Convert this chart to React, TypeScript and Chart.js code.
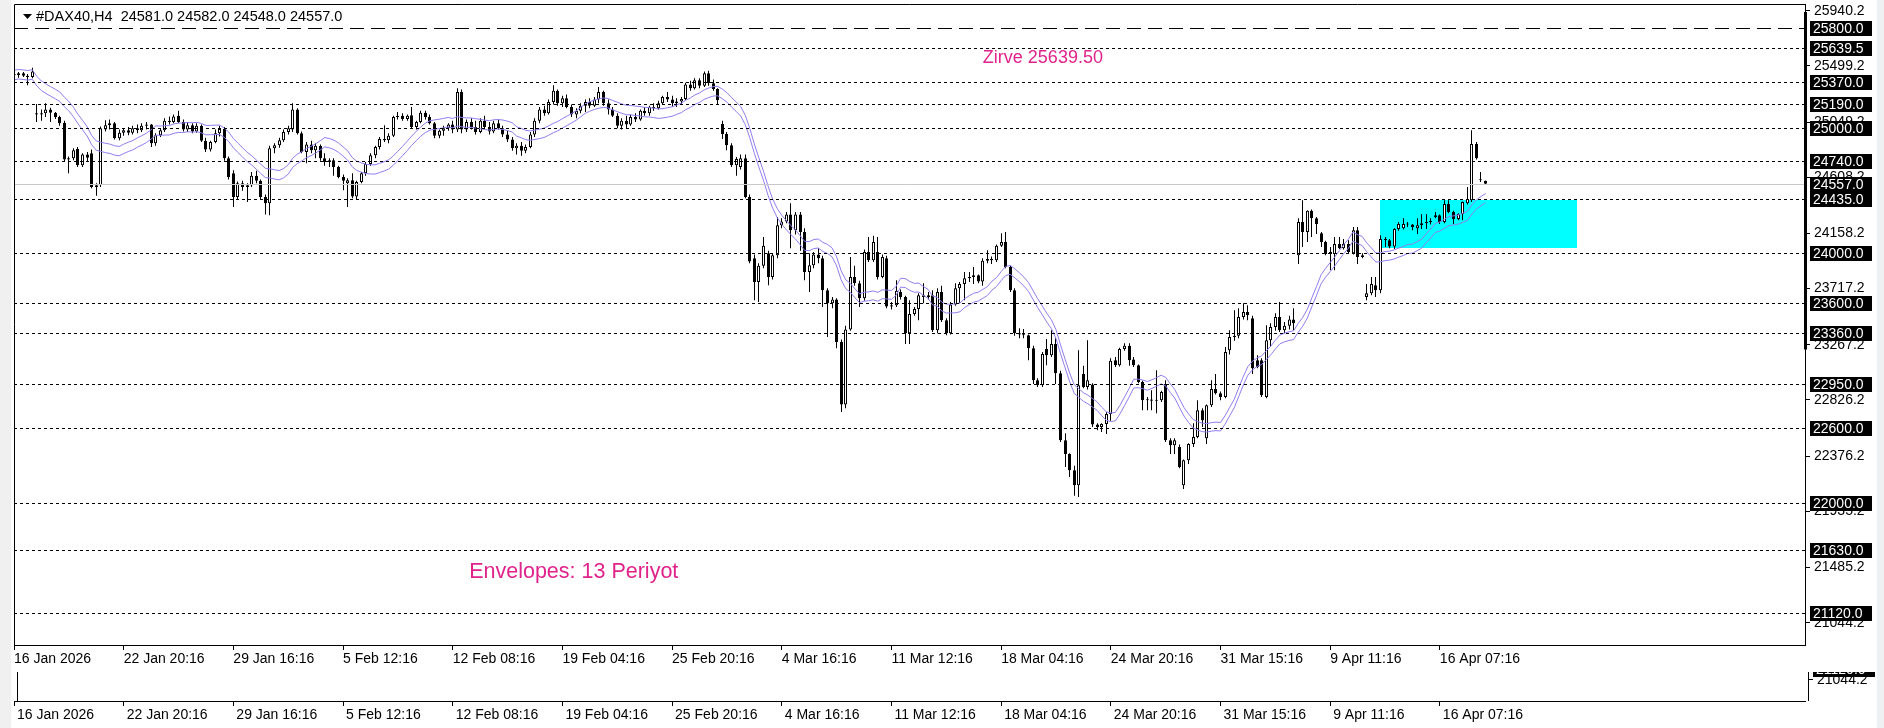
import React, { useEffect, useRef } from 'react';
import { Chart, registerables } from 'chart.js';

Chart.register(...registerables);

// ---------- DATA ----------
const opens = [
  25430,25425,25440,25420,25410,25120,25110,25120,25150,25125,
  25090,25045,24750,24760,24835,24705,24790,24800,24530,24545,
  24990,25025,25040,24920,24965,24985,24965,25000,24985,25020,
  25030,24880,24945,24985,25060,25050,25100,25050,24990,25025,
  24975,25020,24900,24830,24890,24960,24995,24760,24640,24450,
  24560,24530,24545,24620,24580,24450,24400,24840,24865,24905,
  24970,24990,25150,24960,24810,24870,24825,24860,24760,24730,
  24745,24690,24610,24560,24585,24455,24570,24640,24715,24785,
  24850,24915,24905,24940,25090,25100,25075,25105,25010,25050,
  25125,25090,25040,24940,24980,25000,25030,24990,25290,24990,
  25050,25010,24970,25060,25010,24975,25040,25000,24950,24910,
  24840,24860,24820,24850,24950,25060,25150,25120,25210,25300,
  25200,25240,25170,25110,25140,25180,25210,25180,25230,25290,
  25200,25150,25100,25020,25060,25030,25090,25070,25140,25120,
  25170,25160,25200,25250,25230,25200,25215,25235,25350,25320,
  25385,25340,25440,25360,25315,25035,24955,24865,24705,24690,
  24760,24450,23960,23770,23900,24000,23810,23985,24225,24255,
  24310,24185,24310,24170,23850,23905,23990,23960,23705,23600,
  23630,23290,22790,23390,23810,23760,23640,24010,23945,24010,
  23810,23960,23575,23585,23690,23650,23360,23515,23555,23665,
  23650,23665,23385,23690,23465,23360,23590,23720,23755,23800,
  23810,23825,23775,23940,23955,23945,24060,24090,23890,23705,
  23360,23350,23345,23240,22985,22945,23235,23185,23275,23040,
  22505,22395,22265,22145,23035,22930,22950,22630,22610,22635,
  22715,23145,23105,23235,23260,23150,23105,22970,22825,22830,
  22820,22825,22955,22505,22465,22450,22145,22345,22475,22530,
  22745,22520,22785,22915,22880,22850,23225,23330,23340,23490,
  23530,23480,23145,23145,22850,23305,23410,23490,23385,23420,
  23470,23985,24250,24170,24340,24280,24160,24090,24010,23995,
  24075,24040,24075,24000,24185,23970,23650,23680,23745,23705,
  24115,24105,24055,24195,24200,24235,24230,24200,24225,24240,
  24250,24305,24305,24250,24395,24330,24275,24315,24400,24425,
  24875,24590,24581,
];

const highs = [
  25445,25450,25450,25435,25485,25195,25150,25200,25165,25130,
  25100,25060,24775,24840,24850,24800,24810,24830,24560,25015,
  25065,25070,25050,24990,25000,25010,25020,25030,25040,25050,
  25035,24960,25000,25080,25095,25110,25140,25070,25050,25040,
  25040,25030,24925,24900,24990,25020,25010,24775,24665,24575,
  24580,24560,24650,24660,24590,24470,24860,24880,24925,24990,
  25020,25200,25160,24975,24890,24900,24880,24870,24800,24760,
  24760,24700,24630,24600,24640,24580,24650,24730,24800,24860,
  24930,25025,24960,25100,25130,25120,25110,25170,25060,25140,
  25140,25110,25050,24990,25020,25040,25060,25320,25310,25070,
  25080,25060,25080,25100,25050,25060,25070,25020,24980,24930,
  24880,24890,24870,24970,25080,25170,25180,25230,25345,25310,
  25260,25270,25190,25160,25200,25230,25240,25250,25330,25300,
  25230,25170,25120,25080,25100,25110,25120,25150,25170,25180,
  25200,25220,25260,25290,25260,25240,25250,25365,25380,25400,
  25400,25455,25460,25390,25320,25060,24970,24880,24770,24790,
  24790,24470,23990,23920,24130,24020,24000,24290,24280,24330,
  24400,24330,24330,24200,24000,24010,24040,23980,23720,23650,
  23640,23310,23420,23970,23900,23780,24030,24130,24140,24130,
  23990,23980,23610,23785,23710,23660,23625,23570,23680,23760,
  23690,23705,23720,23740,23480,23610,23760,23770,23850,23850,
  23890,23830,23960,24025,23975,24070,24160,24170,23900,23720,
  23400,23395,23350,23260,23000,23210,23315,23385,23320,23060,
  22560,22400,22300,23225,23100,23305,22960,22640,22640,22730,
  23160,23170,23245,23280,23280,23170,23110,22980,22850,22905,
  23065,22900,22985,22520,22520,22470,22350,22480,22640,22825,
  22760,22790,22985,23035,22895,23250,23385,23545,23560,23600,
  23585,23500,23185,23160,23425,23440,23520,23610,23450,23500,
  23560,24280,24425,24345,24350,24290,24170,24100,24050,24130,
  24130,24115,24105,24210,24210,24000,23755,23810,23810,24145,
  24130,24115,24200,24250,24280,24250,24235,24280,24315,24315,
  24280,24330,24310,24425,24425,24340,24320,24415,24530,24985,
  24890,24650,24582,
];

const lows = [
  25415,25405,25410,25345,25400,25050,25060,25090,25050,25075,
  25020,24735,24640,24745,24690,24690,24730,24520,24460,24530,
  24975,24990,24910,24905,24940,24945,24950,24960,24970,24990,
  24850,24860,24930,24970,25030,25040,25040,24975,24970,24960,
  24965,24890,24810,24815,24880,24935,24740,24590,24370,24430,
  24500,24410,24530,24560,24430,24310,24305,24800,24845,24890,
  24950,24970,24950,24800,24720,24800,24760,24740,24700,24690,
  24620,24600,24505,24370,24440,24435,24560,24620,24700,24760,
  24830,24890,24880,24930,25070,25060,25060,25000,24990,25040,
  25070,25030,24920,24920,24940,24980,24960,24970,24960,24970,
  24990,24950,24960,24990,24950,24960,24990,24930,24890,24820,
  24790,24780,24800,24840,24930,25040,25100,25110,25190,25180,
  25170,25160,25090,25080,25120,25130,25160,25170,25200,25180,
  25110,25090,25000,24990,25000,25020,25050,25060,25100,25100,
  25140,25150,25190,25210,25170,25170,25190,25225,25300,25310,
  25320,25330,25340,25300,25195,24915,24825,24690,24620,24670,
  24440,23920,23625,23610,23880,23745,23790,23960,24200,24240,
  24040,24150,24020,23785,23690,23880,23920,23570,23330,23560,
  23240,22730,22760,23380,23740,23570,23620,23930,23930,23790,
  23800,23560,23550,23570,23630,23275,23275,23500,23465,23600,
  23630,23370,23360,23450,23345,23350,23580,23600,23625,23770,
  23755,23760,23740,23920,23915,23930,24050,23880,23690,23340,
  23320,23320,23145,22955,22930,22930,23105,23170,22955,22490,
  22290,22210,22060,22050,22920,22910,22610,22585,22570,22555,
  22660,23090,23095,23220,23100,23090,22960,22745,22745,22745,
  22720,22810,22490,22395,22395,22280,22115,22315,22450,22520,
  22610,22475,22770,22870,22825,22840,23190,23300,23320,23470,
  23465,23035,23080,22850,22840,23250,23380,23370,23360,23390,
  23385,23915,24050,24090,24130,24155,24050,23985,23865,23865,
  24035,24030,23995,23990,23915,23960,23625,23665,23650,23680,
  24050,24040,24035,24180,24190,24210,24185,24155,24195,24195,
  24230,24280,24235,24240,24320,24235,24265,24265,24390,24410,
  24750,24570,24548,
];

const closes = [
  25425,25440,25420,25410,25455,25110,25120,25150,25125,25090,
  25040,24750,24760,24825,24705,24790,24765,24530,24545,25000,
  25025,25040,24920,24965,24985,24965,25000,24985,25020,25030,
  24880,24945,24985,25060,25050,25095,25050,24990,25025,24975,
  25020,24900,24830,24890,24960,24995,24760,24610,24450,24560,
  24530,24545,24620,24580,24450,24400,24840,24865,24905,24970,
  25000,25150,24960,24810,24870,24825,24860,24760,24730,24745,
  24690,24610,24580,24585,24455,24570,24640,24715,24785,24850,
  24915,24905,24940,25090,25100,25075,25100,25010,25050,25125,
  25090,25040,24940,24980,25000,25030,24990,25290,24990,25050,
  25010,24970,25060,25010,24975,25040,25000,24950,24910,24840,
  24860,24820,24850,24950,25060,25150,25120,25210,25300,25200,
  25240,25170,25110,25140,25180,25210,25180,25230,25290,25200,
  25150,25100,25020,25060,25030,25090,25070,25140,25120,25170,
  25160,25200,25250,25230,25200,25215,25235,25350,25320,25385,
  25340,25440,25360,25315,25225,24955,24865,24705,24755,24760,
  24450,23935,23770,23900,24060,23810,23985,24225,24255,24310,
  24185,24310,24170,23850,23905,23990,23960,23705,23600,23630,
  23290,22790,23390,23810,23760,23640,24010,23945,24090,23810,
  23970,23575,23585,23700,23650,23360,23515,23555,23665,23650,
  23665,23385,23690,23465,23360,23590,23720,23755,23800,23810,
  23825,23775,23940,23955,23945,24060,24090,23890,23705,23360,
  23350,23345,23240,22985,22945,23195,23185,23275,23040,22505,
  22395,22265,22145,22945,22930,22985,22630,22610,22635,22715,
  23140,23105,23235,23260,23145,23105,22970,22825,22830,22820,
  22825,22890,22505,22465,22505,22290,22345,22475,22530,22745,
  22665,22785,22915,22880,22850,23210,23330,23340,23490,23530,
  23505,23080,23090,22865,23305,23410,23490,23385,23420,23470,
  23440,24250,24170,24340,24280,24235,24090,23995,23995,24075,
  24040,24075,24010,24185,23970,23985,23680,23755,23705,24115,
  24105,24055,24195,24235,24235,24230,24210,24225,24240,24250,
  24255,24290,24250,24395,24330,24275,24315,24410,24435,24875,
  24760,24585,24557,
];

// time axis: a label every 24 bars
const xTickBars = [0, 24, 48, 72, 96, 120, 144, 168, 192, 216, 240, 264, 288, 312];
const xTickLabels = [
  '16 Jan 2026', '22 Jan 20:16', '29 Jan 16:16', '5 Feb 12:16', '12 Feb 08:16',
  '19 Feb 04:16', '25 Feb 20:16', '4 Mar 16:16', '11 Mar 12:16', '18 Mar 04:16',
  '24 Mar 20:16', '31 Mar 15:16', '9 Apr 11:16', '16 Apr 07:16',
];

// price axis
const priceTicks = [25940.2, 25499.2, 25049.2, 24608.2, 24158.2, 23717.2, 23267.2, 22826.2, 22376.2, 21935.2, 21485.2, 21044.2];
const levelLines = [25639.5, 25370, 25190, 25000, 24740, 24435, 24000, 23600, 23360, 22950, 22600, 22000, 21630, 21120];
const topLevel = 25800;
const bidPrice = 24557;
const headerText = '#DAX40,H4  24581.0 24582.0 24548.0 24557.0';

// indicator
const envPeriod = 13;
const envDeviationPct = 0.15;

// annotations (in bar / price units)
const zoneBox = { fromBar: 299, toBar: 342, top: 24430, bottom: 24046 };
const zirveNote = { bar: 212, price: 25560, text: 'Zirve 25639.50' };
const envNote = { bar: 99.6, price: 21448, text: 'Envelopes: 13 Periyot' };
const thickAxisFrom = 25930;
const thickAxisTo = 23230;

const X_MAX = 391.9;
const Y_MIN = 20866;
const Y_MAX = 25994;
const FONT = "'Liberation Sans', Arial, sans-serif";
const PINK = '#e0228b';
const ENV_COLOR = '#8f7ef0';

function movingAverage(values: number[], period: number): number[] {
  return values.map((_, i) => {
    const s = Math.max(0, i - period + 1);
    let sum = 0;
    for (let k = s; k <= i; k++) sum += values[k];
    return sum / (i - s + 1);
  });
}

const mt4Plugin = {
  id: 'mt4Decor',
  beforeDraw(chart: any) {
    const { ctx, width, height } = chart;
    ctx.save();
    ctx.fillStyle = '#ffffff';
    ctx.fillRect(0, 0, width, height);
    ctx.fillStyle = '#f0f0f0';
    ctx.fillRect(0, 0, 11, height);
    ctx.fillStyle = '#eef0f2';
    ctx.fillRect(1877, 0, width - 1877, height);
    ctx.restore();
  },
  afterDatasetsUpdate(chart: any) {
    // snap candle elements to whole device pixels (crisp 1px wicks / 3px bodies)
    chart.getSortedVisibleDatasetMetas().forEach((meta: any) => {
      if (meta.type !== 'bar') return;
      meta.data.forEach((el: any) => {
        el.x = Math.round(el.x - 0.5) + 0.5;
      });
    });
  },
  beforeDatasetsDraw(chart: any) {
    const { ctx, chartArea: a, scales } = chart;
    const xs = scales.x;
    const ys = scales.y;
    ctx.save();
    ctx.beginPath();
    ctx.rect(a.left, a.top, a.right - a.left, a.bottom - a.top);
    ctx.clip();
    const bx1 = xs.getPixelForValue(zoneBox.fromBar);
    const bx2 = xs.getPixelForValue(zoneBox.toBar);
    const by1 = ys.getPixelForValue(zoneBox.top);
    const by2 = ys.getPixelForValue(zoneBox.bottom);
    ctx.fillStyle = '#00ffff';
    ctx.fillRect(Math.round(bx1), Math.round(by1), Math.round(bx2 - bx1), Math.round(by2 - by1));
    ctx.restore();
  },
  afterDatasetsDraw(chart: any) {
    const { ctx, chartArea: a, scales } = chart;
    const ys = scales.y;
    ctx.save();
    ctx.beginPath();
    ctx.rect(a.left, a.top, a.right - a.left, a.bottom - a.top);
    ctx.clip();
    ctx.lineWidth = 1;
    // bid line
    let y = Math.round(ys.getPixelForValue(bidPrice)) + 0.5;
    ctx.strokeStyle = '#c8c8c8';
    ctx.setLineDash([]);
    ctx.beginPath();
    ctx.moveTo(a.left, y);
    ctx.lineTo(a.right, y);
    ctx.stroke();
    // levels
    ctx.strokeStyle = '#000000';
    levelLines.forEach((v) => {
      const yy = Math.round(ys.getPixelForValue(v)) + 0.5;
      ctx.setLineDash([3, 3]);
      ctx.beginPath();
      ctx.moveTo(a.left, yy);
      ctx.lineTo(a.right, yy);
      ctx.stroke();
    });
    y = Math.round(ys.getPixelForValue(topLevel)) + 0.5;
    ctx.setLineDash([14, 7]);
    ctx.beginPath();
    ctx.moveTo(a.left, y);
    ctx.lineTo(a.right, y);
    ctx.stroke();
    ctx.restore();
  },
  afterDraw(chart: any) {
    const { ctx, chartArea: a, scales } = chart;
    const xs = scales.x;
    const ys = scales.y;
    ctx.save();
    ctx.setLineDash([]);
    // chart frame (left, top)
    ctx.strokeStyle = '#000';
    ctx.lineWidth = 1;
    ctx.beginPath();
    ctx.moveTo(a.left + 0.5, a.bottom);
    ctx.lineTo(a.left + 0.5, a.top + 0.5);
    ctx.lineTo(a.right, a.top + 0.5);
    ctx.stroke();

    // thick part of the price axis
    const t1 = ys.getPixelForValue(thickAxisFrom);
    const t2 = ys.getPixelForValue(thickAxisTo);
    ctx.fillStyle = '#000';
    ctx.fillRect(a.right - 1, t1, 3, t2 - t1);

    // header
    ctx.fillStyle = '#000';
    ctx.beginPath();
    ctx.moveTo(23, 14);
    ctx.lineTo(32, 14);
    ctx.lineTo(27.5, 19);
    ctx.closePath();
    ctx.fill();
    ctx.font = `14.5px ${FONT}`;
    ctx.textBaseline = 'middle';
    ctx.textAlign = 'left';
    ctx.fillText(headerText, 36, 17);

    // notes
    ctx.fillStyle = PINK;
    ctx.font = `18px ${FONT}`;
    ctx.fillText(zirveNote.text, xs.getPixelForValue(zirveNote.bar), ys.getPixelForValue(zirveNote.price));
    ctx.font = `21.5px ${FONT}`;
    ctx.fillText(envNote.text, xs.getPixelForValue(envNote.bar), ys.getPixelForValue(envNote.price));

    // black price labels of lines
    const drawLabel = (v: number, dx: number, dy: number) => {
      const yy = Math.round(ys.getPixelForValue(v)) + dy;
      ctx.fillStyle = '#000';
      ctx.fillRect(1810 + dx, yy - 7, 62, 15);
      ctx.fillStyle = '#fff';
      ctx.font = `14px ${FONT}`;
      ctx.textBaseline = 'middle';
      ctx.textAlign = 'left';
      ctx.fillText(v.toFixed(1), 1813 + dx, yy + 1);
    };
    [topLevel, ...levelLines, bidPrice].forEach((v) => drawLabel(v, 0, 0));

    // duplicated strip at the bottom (screen capture artefact)
    const x2 = scales.x2;
    const dy = x2.top - scales.x.top;
    const stripTop = 672;
    ctx.strokeStyle = '#000';
    ctx.beginPath();
    ctx.moveTo(a.left + 3.5, stripTop);
    ctx.lineTo(a.left + 3.5, x2.top);
    ctx.moveTo(a.right + 3.5, stripTop);
    ctx.lineTo(a.right + 3.5, x2.top);
    ctx.stroke();
    ctx.save();
    ctx.beginPath();
    ctx.rect(0, stripTop, chart.width, x2.top - stripTop);
    ctx.clip();
    drawLabel(21120, 3, dy);
    const ty = Math.round(ys.getPixelForValue(21044.2)) + dy;
    ctx.fillStyle = '#000';
    ctx.fillRect(a.right + 3, ty, 5, 1);
    ctx.font = `14px ${FONT}`;
    ctx.fillText('21044.2', a.right + 12, ty + 1);
    ctx.restore();

    ctx.restore();
  },
};

export default function App() {
  const ref = useRef<HTMLCanvasElement | null>(null);

  useEffect(() => {
    if (!ref.current) return;
    const ma = movingAverage(closes, envPeriod);
    const upper = ma.map((m, i) => ({ x: i, y: m * (1 + envDeviationPct / 100) }));
    const lower = ma.map((m, i) => ({ x: i, y: m * (1 - envDeviationPct / 100) }));
    const wicks = highs.map((h, i) => ({ x: i, y: [lows[i], h] }));
    const bodies = opens.map((o, i) => ({ x: i, y: [o, closes[i]] }));
    const bodyColors = opens.map((o, i) => (closes[i] >= o ? '#ffffff' : '#000000'));

    const tickLabel = (v: any) => {
      const idx = xTickBars.indexOf(Number(v));
      return idx >= 0 ? xTickLabels[idx] : null;
    };
    const xAxis = (weight: number, height: number, labelOffset: number) => ({
      type: 'linear',
      position: 'bottom',
      min: 0,
      max: X_MAX,
      offset: false,
      weight,
      afterBuildTicks: (s: any) => {
        s.ticks = xTickBars.map((v) => ({ value: v }));
      },
      afterFit: (s: any) => {
        s.height = height;
        s.paddingLeft = 0;
        s.paddingRight = 0;
      },
      ticks: {
        autoSkip: false,
        maxRotation: 0,
        minRotation: 0,
        align: 'start',
        padding: 1,
        labelOffset,
        color: '#000',
        font: { family: FONT, size: 14 },
        callback: tickLabel,
      },
      grid: { drawOnChartArea: false, drawTicks: true, tickLength: 5, color: '#000', offset: false },
      border: { display: true, color: '#000', width: 1 },
    });

    const chart = new Chart(ref.current, {
      type: 'bar',
      data: {
        datasets: [
          {
            type: 'line',
            label: 'Env upper',
            data: upper,
            borderColor: ENV_COLOR,
            borderWidth: 1,
            pointRadius: 0,
            tension: 0,
            order: 1,
          },
          {
            type: 'line',
            label: 'Env lower',
            data: lower,
            borderColor: ENV_COLOR,
            borderWidth: 1,
            pointRadius: 0,
            tension: 0,
            order: 1,
          },
          {
            type: 'bar',
            label: 'body',
            data: bodies,
            backgroundColor: bodyColors,
            borderColor: '#000',
            borderWidth: 1,
            borderSkipped: false,
            barThickness: 3,
            minBarLength: 1,
            grouped: false,
            inflateAmount: 0,
            order: 2,
          },
          {
            type: 'bar',
            label: 'wick',
            data: wicks,
            backgroundColor: '#000',
            borderWidth: 0,
            barThickness: 1,
            grouped: false,
            inflateAmount: 0,
            order: 3,
          },
        ] as any,
      },
      options: {
        responsive: false,
        animation: false,
        devicePixelRatio: 1,
        events: [],
        layout: { padding: { left: 14, top: 4, right: 0, bottom: 0 } },
        plugins: { legend: { display: false }, tooltip: { enabled: false } },
        scales: {
          x: xAxis(0, 56, 0),
          x2: xAxis(1, 27, 3),
          y: {
            type: 'linear',
            position: 'right',
            min: Y_MIN,
            max: Y_MAX,
            afterBuildTicks: (s: any) => {
              s.ticks = priceTicks.map((v) => ({ value: v }));
            },
            afterFit: (s: any) => {
              s.width = 79;
              s.paddingTop = 0;
              s.paddingBottom = 0;
            },
            ticks: {
              autoSkip: false,
              padding: 4,
              color: '#000',
              font: { family: FONT, size: 14 },
              callback: (v: any) => Number(v).toFixed(1),
            },
            grid: { drawOnChartArea: false, drawTicks: true, tickLength: 5, color: '#000' },
            border: { display: true, color: '#000', width: 1 },
          },
        } as any,
      },
      plugins: [mt4Plugin],
    });
    return () => chart.destroy();
  }, []);

  return (
    <div style={{ position: 'fixed', left: 0, top: 0, width: 1884, height: 728, background: '#fff' }}>
      <canvas ref={ref} width={1884} height={728} style={{ display: 'block' }} />
    </div>
  );
}
